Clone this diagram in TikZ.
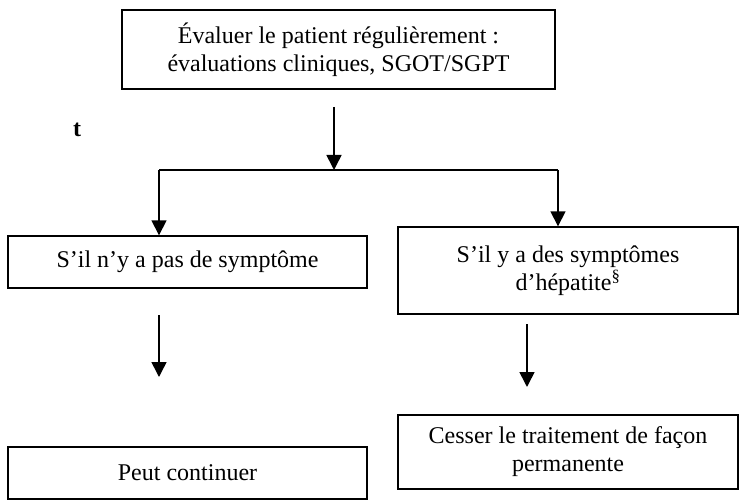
\documentclass[tikz,border=0pt]{standalone}
\usepackage{fontspec}
\setmainfont{Liberation Serif}
\usetikzlibrary{arrows.meta}
\begin{document}
\begin{tikzpicture}[x=1pt,y=-1pt,
  box/.style={draw, line width=1.4pt, inner sep=0pt, align=center,
    font=\fontsize{24}{28}\selectfont},
  arr/.style={line width=1.6pt, -{Triangle[length=15pt,width=15pt]}},
  ln/.style={line width=1.6pt}]
\useasboundingbox (0,0) rectangle (740,500);

\node[box, minimum width=433pt, minimum height=79pt] (top) at (338.5,49.5)
  {Évaluer le patient régulièrement :\\évaluations cliniques, SGOT/SGPT};

\node[box, minimum width=359pt, minimum height=52pt] (nosym) at (187.5,262)
  {S’il n’y a pas de symptôme};
\node[box, minimum width=340pt, minimum height=87pt] (sym) at (568,270.5)
  {S’il y a des symptômes\\d’hépatite\textsuperscript{§}};
\node[box, minimum width=359pt, minimum height=52pt] (cont) at (187.5,473)
  {Peut continuer};
\node[box, minimum width=340pt, minimum height=74pt] (stop) at (568,452)
  {Cesser le traitement de façon\\permanente};

\node[font=\bfseries\fontsize{24}{28}\selectfont] (tfrag) at (77,130) {t};

\coordinate (a1s) at (334,107);
\coordinate (j) at (334,170);
\coordinate (jl) at (159,170);
\coordinate (jr) at (558,170);
\coordinate (l2s) at (159,315);
\coordinate (l2e) at (159,377);
\coordinate (r2s) at (527,324);
\coordinate (r2e) at (527,387);

\draw[arr] (a1s) -- (j);
\draw[ln] (jl) -- (jr);
\draw[arr] (jl) -- (jl |- nosym.north);
\draw[arr] (jr) -- (jr |- sym.north);
\draw[arr] (l2s) -- (l2e);
\draw[arr] (r2s) -- (r2e);
\end{tikzpicture}
\end{document}
